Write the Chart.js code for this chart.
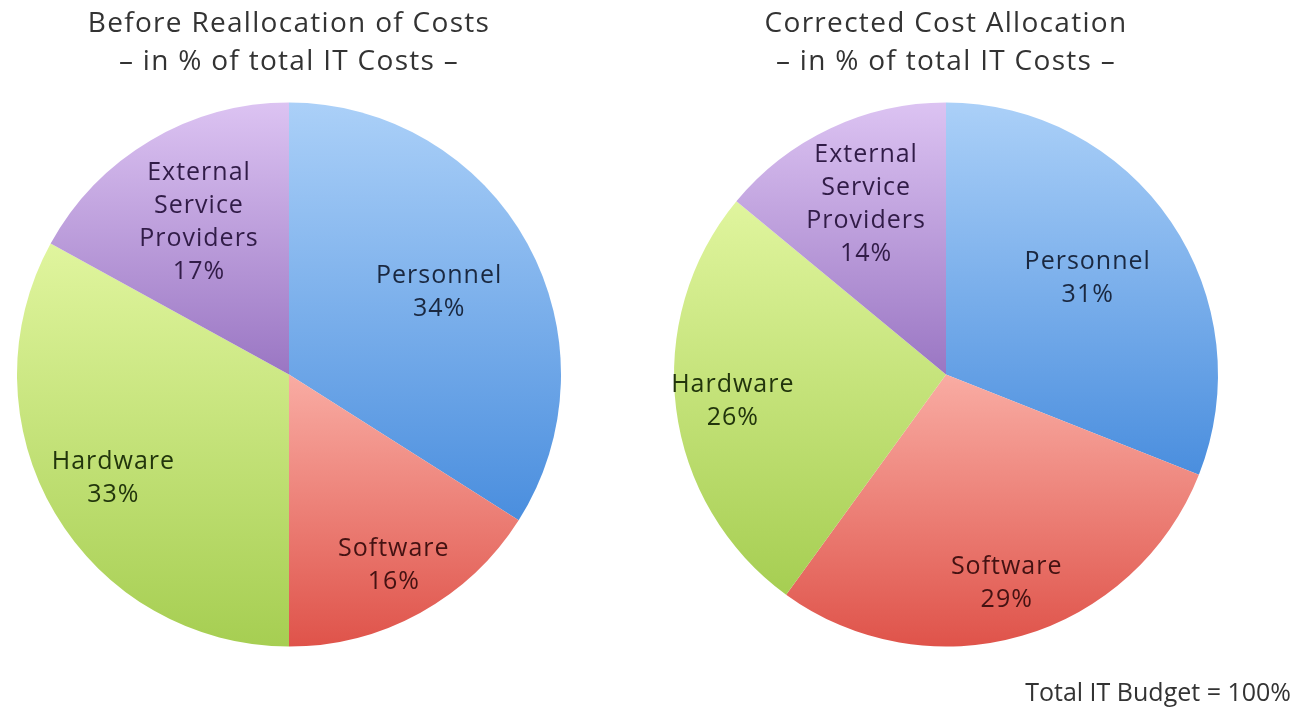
<!DOCTYPE html>
<html>
<head>
<meta charset="utf-8">
<script src="https://cdn.jsdelivr.net/npm/chart.js@4"></script>
<style>
  html, body { margin: 0; padding: 0; background: #fff; }
  body { width: 1295px; height: 712px; position: relative; overflow: hidden; }
  .box { position: absolute; top: 0; height: 712px; }
  #leftBox { left: 0; width: 578px; }
  #rightBox { left: 657px; width: 638px; }
</style>
</head>
<body>
<div class="box" id="leftBox"><canvas id="left"></canvas></div>
<div class="box" id="rightBox"><canvas id="right"></canvas></div>
<script>
// ---- data ----
const categories = ['Personnel', 'Software', 'Hardware', 'External Service Providers'];
const labelLines = [['Personnel'], ['Software'], ['Hardware'], ['External', 'Service', 'Providers']];
const beforeValues = [34, 16, 33, 17];
const afterValues = [31, 29, 26, 14];
const beforeTitle = ['Before Reallocation of Costs', '\u2013 in % of total IT Costs \u2013'];
const afterTitle = ['Corrected Cost Allocation', '\u2013 in % of total IT Costs \u2013'];
const footnote = 'Total IT Budget = 100%';

// ---- styles ----
const topColors = ['#abd0f8', '#f9aca3', '#e0f59e', '#dcc3f2'];
const bottomColors = ['#4a8ede', '#df534a', '#a6ce52', '#9a76c3'];
const textColors = ['#1a2840', '#441212', '#22350c', '#311c47'];
const FONT = '"Open Sans", "Noto Sans", sans-serif';

function inRange(a, s, e) {
  for (let k = -2; k <= 2; k++) {
    const v = a + 2 * Math.PI * k;
    if (v >= s && v <= e) return true;
  }
  return false;
}

function sliceGradient(ctx) {
  const chart = ctx.chart;
  const i = ctx.dataIndex;
  const area = chart.chartArea;
  if (!area) return bottomColors[i];
  const data = ctx.dataset.data;
  const total = data.reduce((a, b) => a + b, 0);
  let cum = 0;
  for (let j = 0; j < i; j++) cum += data[j];
  const s = -Math.PI / 2 + 2 * Math.PI * cum / total;
  const e = s + 2 * Math.PI * data[i] / total;
  const cy = (area.top + area.bottom) / 2;
  const r = Math.min(area.right - area.left, area.bottom - area.top) / 2;
  const ys = [cy, cy + r * Math.sin(s), cy + r * Math.sin(e)];
  if (inRange(Math.PI / 2, s, e)) ys.push(cy + r);
  if (inRange(-Math.PI / 2, s, e)) ys.push(cy - r);
  const y0 = Math.min(...ys), y1 = Math.max(...ys);
  const g = chart.ctx.createLinearGradient(0, y0, 0, y1 + 0.01);
  g.addColorStop(0, topColors[i]);
  g.addColorStop(1, bottomColors[i]);
  return g;
}

// widen glyph spacing slightly, as in the reference
const spacingPlugin = {
  id: 'spacing',
  beforeDraw(chart) { chart.ctx.letterSpacing = '1.3px'; }
};

const sliceLabels = {
  id: 'sliceLabels',
  afterDatasetsDraw(chart, args, opts) {
    const ctx = chart.ctx;
    const meta = chart.getDatasetMeta(0);
    const data = chart.data.datasets[0].data;
    ctx.save();
    ctx.font = '25px ' + FONT;
    ctx.letterSpacing = '1px';
    ctx.textAlign = 'center';
    ctx.textBaseline = 'middle';
    meta.data.forEach((arc, i) => {
      const p = arc.getProps(['x', 'y', 'startAngle', 'endAngle', 'outerRadius'], true);
      const mid = (p.startAngle + p.endAngle) / 2;
      const rr = p.outerRadius * opts.radius[i];
      const x = p.x + Math.cos(mid) * rr;
      const y = p.y + Math.sin(mid) * rr;
      const lines = labelLines[i].concat([data[i] + '%']);
      const lh = 33;
      const y0 = y - (lines.length - 1) * lh / 2;
      ctx.fillStyle = textColors[i];
      lines.forEach((t, k) => ctx.fillText(t, x, y0 + k * lh));
    });
    ctx.restore();
  }
};

const footPlugin = {
  id: 'footText',
  afterDraw(chart, args, opts) {
    if (!opts.text) return;
    const ctx = chart.ctx;
    ctx.save();
    ctx.font = '25px ' + FONT;
    ctx.letterSpacing = '0px';
    ctx.fillStyle = '#333';
    ctx.textAlign = 'right';
    ctx.textBaseline = 'middle';
    ctx.fillText(opts.text, chart.width - 4, 694);
    ctx.restore();
  }
};

function makeChart(id, values, title, padRight, radii, foot) {
  return new Chart(document.getElementById(id), {
    type: 'pie',
    data: {
      labels: categories,
      datasets: [{
        data: values,
        backgroundColor: sliceGradient,
        borderWidth: 0,
        hoverOffset: 0
      }]
    },
    options: {
      responsive: true,
      maintainAspectRatio: false,
      animation: false,
      layout: { padding: { left: 17, right: padRight, top: 0, bottom: 65 } },
      plugins: {
        legend: { display: false },
        tooltip: { enabled: false },
        title: {
          display: true,
          text: title,
          color: '#333',
          font: { family: FONT, size: 28, weight: 'normal', lineHeight: 1.36 },
          padding: { top: 5, bottom: 21 }
        },
        sliceLabels: { radius: radii },
        footText: { text: foot }
      }
    },
    plugins: [spacingPlugin, sliceLabels, footPlugin]
  });
}

makeChart('left', beforeValues, beforeTitle, 17, [0.63, 0.8, 0.75, 0.65], '');
makeChart('right', afterValues, afterTitle, 77, [0.63, 0.8, 0.79, 0.69], footnote);
</script>
</body>
</html>
